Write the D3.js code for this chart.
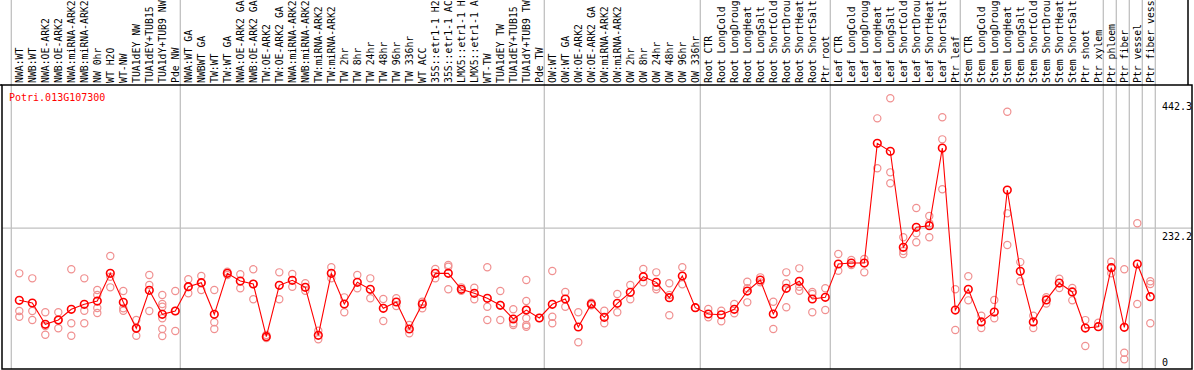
<!DOCTYPE html>
<html>
<head>
<meta charset="utf-8">
<script src="https://cdn.jsdelivr.net/npm/d3@7"></script>
<style>
  body { margin: 0; background: #fff; }
  svg { display: block; }
</style>
</head>
<body>
<script>
// gene shown in the corner
const geneId = "Potri.013G107300";

// sample labels as printed (header cuts them to 14 characters)
const samples = [
  "NWA:WT", "NWB:WT", "NWA:OE-ARK2", "NWB:OE-ARK2", "NWA:miRNA-ARK2", "NWB:miRNA-ARK2",
  "NW 0hr", "WT H2O", "WT-NW", "TUA1dEY NW", "TUA1dEY+TUB15", "TUA1dY+TUB9 NW", "Pde NW",
  "NWA:WT GA", "NWBWT GA", "TW:WT", "TW:WT GA", "NWA:OE-ARK2 GA", "NWB:OE-ARK2 GA",
  "TW:OE-ARK2", "TW:OE-ARK2 GA", "NWA:miRNA-ARK2", "NWB:miRNA-ARK2", "TW:miRNA-ARK2",
  "TW:miRNA-ARK2", "TW 2hr", "TW 8hr", "TW 24hr", "TW 48hr", "TW 96hr", "TW 336hr",
  "WT ACC", "35S::etr1-1 H2", "35S::etr1-1 AC", "LMX5::etr1-1 H", "LMX5::etr1-1 A",
  "WT-TW", "TUA1dEY TW", "TUA1dEY+TUB15", "TUA1dY+TUB9 TW", "Pde TW",
  "OW:WT", "OW:WT GA", "OW:OE-ARK2", "OW:OE-ARK2 GA", "OW:miRNA-ARK2", "OW:miRNA-ARK2",
  "OW 2hr", "OW 8hr", "OW 24hr", "OW 48hr", "OW 96hr", "OW 336hr",
  "Root CTR", "Root LongCold", "Root LongDroug", "Root LongHeat", "Root LongSalt",
  "Root ShortCold", "Root ShortDrou", "Root ShortHeat", "Root ShortSalt", "Ptr root",
  "Leaf CTR", "Leaf LongCold", "Leaf LongDroug", "Leaf LongHeat", "Leaf LongSalt",
  "Leaf ShortCold", "Leaf ShortDrou", "Leaf ShortHeat", "Leaf ShortSalt", "Ptr leaf",
  "Stem CTR", "Stem LongCold", "Stem LongDroug", "Stem LongHeat", "Stem LongSalt",
  "Stem ShortCold", "Stem ShortDrou", "Stem ShortHeat", "Stem ShortSalt", "Ptr shoot",
  "Ptr xylem", "Ptr phloem", "Ptr fiber", "Ptr vessel", "Ptr fiber vess"
];

// column index where a new sample group starts (gray separators)
const groupStarts = [0, 13, 41, 53, 63, 73, 84, 85, 86, 87, 88];

// mean expression per sample
const means = [
  115.1, 110.7, 76.2, 83.1, 100.5, 108.6, 113.9, 158.8, 111.8, 69.7, 131.3, 92.4, 97.7,
  137.1, 143.6, 92.4, 158.8, 146.3, 141.5, 56.1, 139.4, 147.5, 136.1, 58.3, 158.8,
  109.1, 144.2, 132.9, 102.1, 112.3, 68.6, 109.1, 158.8, 158.8, 132.9, 126.4, 118.3,
  107.0, 84.8, 99.3, 86.4,
  108.6, 117.2, 71.8, 109.1, 87.5, 110.2, 128.0, 153.3, 144.2, 119.3, 154.5, 103.1,
  92.9, 91.7, 100.5, 130.1, 148.0, 92.9, 134.5, 145.9, 117.2, 119.9,
  173.9, 175.5, 175.5, 369.5, 356.6, 201.0, 233.4, 236.0, 361.9, 99.3,
  133.0, 80.0, 96.0, 293.8, 162.0, 80.0, 115.7, 143.0, 128.6, 70.0, 72.3,
  167.9, 71.3, 173.9, 120.9
];

// individual replicates per sample
const reps = [
  [158.8, 97.7, 88.5], [150.7, 97.7, 83.1], [95.6, 73.4, 59.3], [95.6, 83.1, 69.7],
  [165.3, 77.8, 57.7], [150.7, 98.2, 77.8], [131.8, 123.7, 102.6, 94.5], [186.9, 153.3, 136.1],
  [130.1, 102.1, 98.2], [83.1, 70.2, 57.7], [156.1, 139.9, 97.7],
  [123.7, 109.1, 104.7, 85.9, 68.6, 57.2], [130.1, 97.7, 65.3],
  [149.1, 136.6, 126.4], [154.5, 143.1, 131.8], [131.8, 79.4, 68.6], [161.4, 156.1],
  [157.2, 134.5], [165.3, 141.5, 116.7], [58.8, 54.0], [160.4, 116.7], [157.7, 137.1],
  [142.6, 130.6], [65.8, 51.9], [168.6, 150.7], [119.9, 95.6], [156.1, 134.5],
  [150.7, 118.3], [117.2, 81.5], [118.3, 105.8], [75.0, 61.6], [112.8, 102.1],
  [165.8, 150.7], [172.3, 169.5, 132.9], [136.1, 130.6], [135.5, 116.7],
  [168.6, 104.7, 83.1], [130.1, 107.5, 83.1], [100.5, 77.8, 75.0],
  [148.0, 113.9, 99.3, 85.9, 75.0, 72.3], [86.4],
  [162.6, 88.5, 77.8], [128.5, 104.7], [95.6, 47.0], [111.2, 107.0], [98.2, 77.8],
  [125.3, 95.6], [139.9, 116.7], [165.8, 144.2], [160.4, 137.1, 132.9],
  [142.6, 123.7, 90.8], [168.6, 141.0], [103.1],
  [101.0, 87.5], [98.2, 81.0], [109.1, 94.0], [145.2, 134.5, 111.8], [152.3, 144.2],
  [112.8, 68.6], [160.4, 142.6, 103.7], [166.9, 137.1, 130.6], [128.5, 125.3, 95.6],
  [134.5, 99.3],
  [190.1, 163.0], [180.4, 172.3], [182.0, 160.4], [410.0, 329.0], [442.5, 322.5, 304.7],
  [217.2, 195.0, 190.1], [264.7, 223.7, 209.1], [251.7, 239.9, 217.2], [411.7, 376.0, 295.0],
  [132.9, 66.9],
  [154.0, 115.0], [90.0, 70.0], [115.7, 86.0], [420.6, 256.0, 204.7], [177.0, 146.0],
  [90.0, 70.0], [120.0, 110.0], [150.0, 135.0], [135.0, 115.0], [83.0, 41.0], [78.8],
  [177.6, 158.8], [165.3, 30.1, 19.4], [239.9, 109.1], [145.9, 141.5, 77.8]
];

// labels printed on the right
const yTicks = [442.3, 232.2, 0];

const W = 1194, H = 370;
const headerBottom = 85, plotBottom = 369, frameRight = 1192;
const font = "'DejaVu Sans Mono', monospace";

const svg = d3.select("body").append("svg")
  .attr("width", W)
  .attr("height", H);

const x = d3.scaleLinear().domain([0, 1]).range([19.3, 32.3]);
const y = d3.scaleLinear().domain([0, 442.5]).range([371.3, 98.3]);

// gray group separators run through header and plot
svg.append("g")
  .attr("stroke", "#c0c0c0")
  .attr("stroke-width", 1.3)
  .selectAll("line")
  .data(groupStarts)
  .join("line")
  .attr("x1", d => x(d) - 8)
  .attr("x2", d => x(d) - 8)
  .attr("y1", 0)
  .attr("y2", plotBottom);

// middle gridline
svg.append("line")
  .attr("stroke", "#c0c0c0")
  .attr("stroke-width", 1.3)
  .attr("x1", 2).attr("x2", frameRight)
  .attr("y1", y(232.2)).attr("y2", y(232.2));

// frame
svg.append("path")
  .attr("fill", "none")
  .attr("stroke", "#000")
  .attr("stroke-width", 1.5)
  .attr("d", `M2,${headerBottom}V${plotBottom}H${frameRight}V${headerBottom}Z`);
svg.append("line")
  .attr("stroke", "#000").attr("stroke-width", 1.5)
  .attr("x1", 0).attr("x2", 2).attr("y1", headerBottom).attr("y2", headerBottom);
svg.append("line")
  .attr("stroke", "#000").attr("stroke-width", 1.5)
  .attr("x1", 1188).attr("x2", 1188).attr("y1", 0).attr("y2", headerBottom);

// sample labels, rotated
svg.append("g")
  .selectAll("text")
  .data(samples)
  .join("text")
  .attr("transform", (d, i) => `translate(${x(i) + 3.5},${headerBottom - 2}) rotate(-90)`)
  .style("font-family", font)
  .style("font-size", "9.8px")
  .attr("fill", "#000")
  .text(d => d);

// gene id
svg.append("text")
  .attr("x", 9).attr("y", 101)
  .style("font-family", font)
  .style("font-size", "10px")
  .attr("fill", "#ff0000")
  .text(geneId);

// y labels
svg.append("g")
  .selectAll("text")
  .data(yTicks)
  .join("text")
  .attr("x", 1162)
  .attr("y", d => Math.min(y(d) + 12, plotBottom - 3))
  .style("font-family", font)
  .style("font-size", "10px")
  .attr("fill", "#000")
  .text(d => d);

// replicates
const repPts = [];
reps.forEach((r, i) => r.forEach(v => repPts.push({ i: i, v: v })));
svg.append("g")
  .attr("fill", "none")
  .attr("stroke", "#f09090")
  .attr("stroke-width", 1.2)
  .selectAll("circle")
  .data(repPts)
  .join("circle")
  .attr("cx", d => x(d.i))
  .attr("cy", d => y(d.v))
  .attr("r", 3.6);

// mean line
const line = d3.line()
  .x((d, i) => x(i))
  .y(d => y(d));
svg.append("path")
  .datum(means)
  .attr("fill", "none")
  .attr("stroke", "#ff0000")
  .attr("stroke-width", 1.1)
  .attr("d", line);

svg.append("g")
  .attr("fill", "none")
  .attr("stroke", "#ff0000")
  .attr("stroke-width", 1.6)
  .selectAll("circle")
  .data(means)
  .join("circle")
  .attr("cx", (d, i) => x(i))
  .attr("cy", d => y(d))
  .attr("r", 3.8);
</script>
</body>
</html>
